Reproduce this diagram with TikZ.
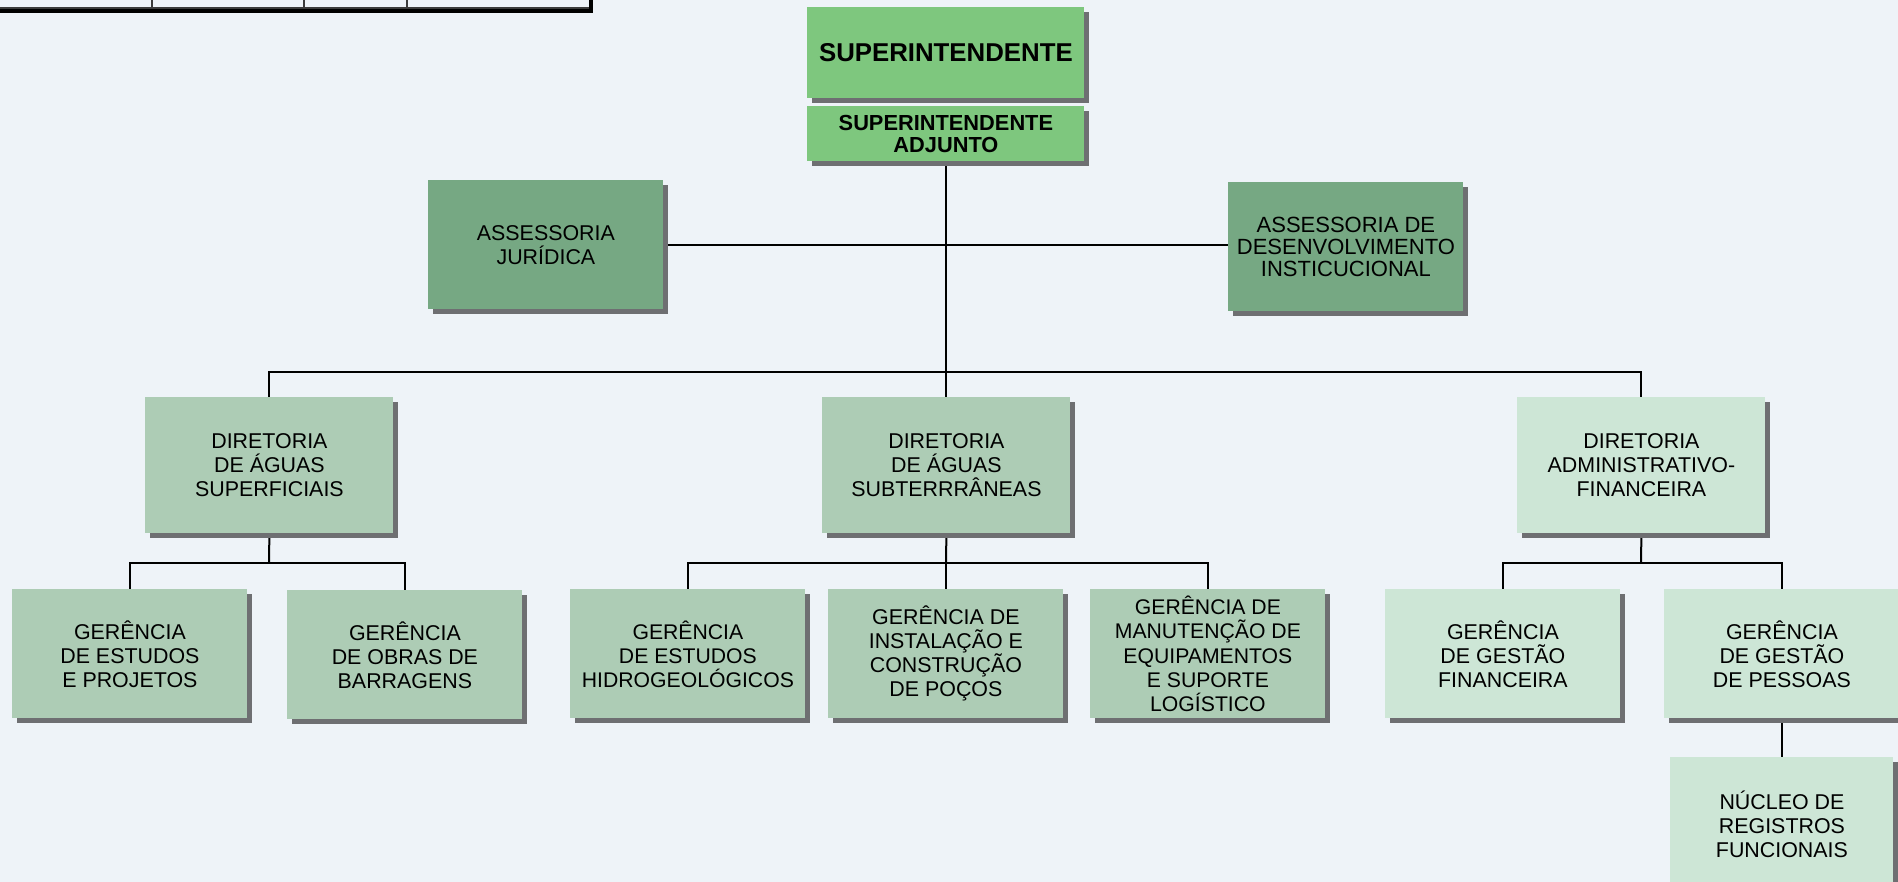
\documentclass[tikz,border=0pt]{standalone}
\usepackage{fontspec}
\setmainfont{Liberation Sans}
\usetikzlibrary{shadows}
\definecolor{bgc}{RGB}{238,243,248}
\definecolor{supc}{RGB}{126,199,126}
\definecolor{assc}{RGB}{118,168,131}
\definecolor{dirc}{RGB}{173,204,181}
\definecolor{admc}{RGB}{205,230,214}
\definecolor{shc}{RGB}{110,111,114}
\definecolor{cellc}{RGB}{60,60,60}
\pgfdeclarelayer{back}
\pgfdeclarelayer{lines}
\pgfsetlayers{back,lines,main}
\begin{document}
\begin{tikzpicture}[x=0.5pt,y=-0.5pt,
  orgbox/.style={anchor=north west, inner sep=0pt, align=center,
    font=\fontsize{10.7}{12}\selectfont,
    drop shadow={shadow xshift=2.5pt, shadow yshift=-2.5pt, fill=shc, opacity=1}},
  topbox/.style={orgbox, fill=supc, minimum width=138.5pt},
  assbox/.style={orgbox, fill=assc, minimum width=117.5pt, minimum height=64.5pt},
  dirbox/.style={orgbox, fill=dirc, minimum width=124pt, minimum height=68pt},
  admdir/.style={dirbox, fill=admc},
  gerbox/.style={orgbox, fill=dirc, minimum width=117.5pt, minimum height=64.5pt},
  admger/.style={gerbox, fill=admc},
  conn/.style={draw=black, line width=1pt}
]
\useasboundingbox (0,0) rectangle (1898,882);
\begin{pgfonlayer}{back}
  \fill[bgc] (0,0) rectangle (1898,882);
  % table fragment at top left
  \draw[cellc, line width=0.6pt] (0,8) -- (592,8);
  \foreach \xx in {152,304,407} \draw[cellc, line width=0.8pt] (\xx,0) -- (\xx,9);
  \draw[black, line width=1.6pt] (0,11) -- (593,11);
  \draw[black, line width=1.6pt] (591,0) -- (591,12);
\end{pgfonlayer}

% top
\node[topbox, minimum height=45.5pt, font=\bfseries\fontsize{12.9}{14}\selectfont] (sup) at (807,7) {\raisebox{-1pt}{SUPERINTENDENTE}};
\node[topbox, minimum height=27.5pt, font=\bfseries\fontsize{10.9}{11}\selectfont] (adj) at (807,106) {SUPERINTENDENTE\\ADJUNTO};

% assessorias
\node[assbox] (aj) at (428,180) {ASSESSORIA\\JURÍDICA};
\node[assbox, font=\fontsize{11}{11}\selectfont] (ad) at (1228,182) {ASSESSORIA DE\\DESENVOLVIMENTO\\INSTICUCIONAL};

% diretorias
\node[dirbox] (dsup) at (145,397) {DIRETORIA\\DE ÁGUAS\\SUPERFICIAIS};
\node[dirbox] (dsub) at (822,397) {DIRETORIA\\DE ÁGUAS\\SUBTERRRÂNEAS};
\node[admdir] (dadm) at (1517,397) {DIRETORIA\\ADMINISTRATIVO-\\FINANCEIRA};

% gerencias
\node[gerbox] (g1) at (12,589) {GERÊNCIA\\DE ESTUDOS\\E PROJETOS};
\node[gerbox] (g2) at (287,590) {GERÊNCIA\\DE OBRAS DE\\BARRAGENS};
\node[gerbox, font=\fontsize{10.6}{12}\selectfont] (g3) at (570,589) {GERÊNCIA\\DE ESTUDOS\\HIDROGEOLÓGICOS};
\node[gerbox] (g4) at (828,589) {GERÊNCIA DE\\INSTALAÇÃO E\\CONSTRUÇÃO\\DE POÇOS};
\node[gerbox, font=\fontsize{10.6}{12.2}\selectfont] (g5) at (1090,589) {GERÊNCIA DE\\MANUTENÇÃO DE\\EQUIPAMENTOS\\E SUPORTE\\LOGÍSTICO};
\node[admger] (g6) at (1385,589) {GERÊNCIA\\DE GESTÃO\\FINANCEIRA};
\node[admger] (g7) at (1664,589) {GERÊNCIA\\DE GESTÃO\\DE PESSOAS};
\node[admger, minimum width=111.5pt, minimum height=67pt] (nuc) at (1670,757) {NÚCLEO DE\\REGISTROS\\FUNCIONAIS};

% junction coordinates
\coordinate (bus) at (946,372);
\coordinate (jl) at (269,563);
\coordinate (jm) at (946,563);
\coordinate (jr) at (1641,563);

\begin{pgfonlayer}{lines}
  \draw[conn] (adj.south) -- (adj.south |- dsub.north);
  \draw[conn] (aj.east) -- (aj.east -| ad.west);
  \draw[conn] (dsup.north) |- (bus) -| (dadm.north);
  \draw[conn] (dsup.south) -- (jl);
  \draw[conn] (g1.north) |- (jl) -| (g2.north);
  \draw[conn] (dsub.south) -- (jm);
  \draw[conn] (g3.north) |- (jm) -| (g5.north);
  \draw[conn] (jm) -- (jm |- g4.north);
  \draw[conn] (dadm.south) -- (jr);
  \draw[conn] (g6.north) |- (jr) -| (g7.north);
  \draw[conn] (g7.south) -- (nuc.north);
\end{pgfonlayer}
\end{tikzpicture}
\end{document}
